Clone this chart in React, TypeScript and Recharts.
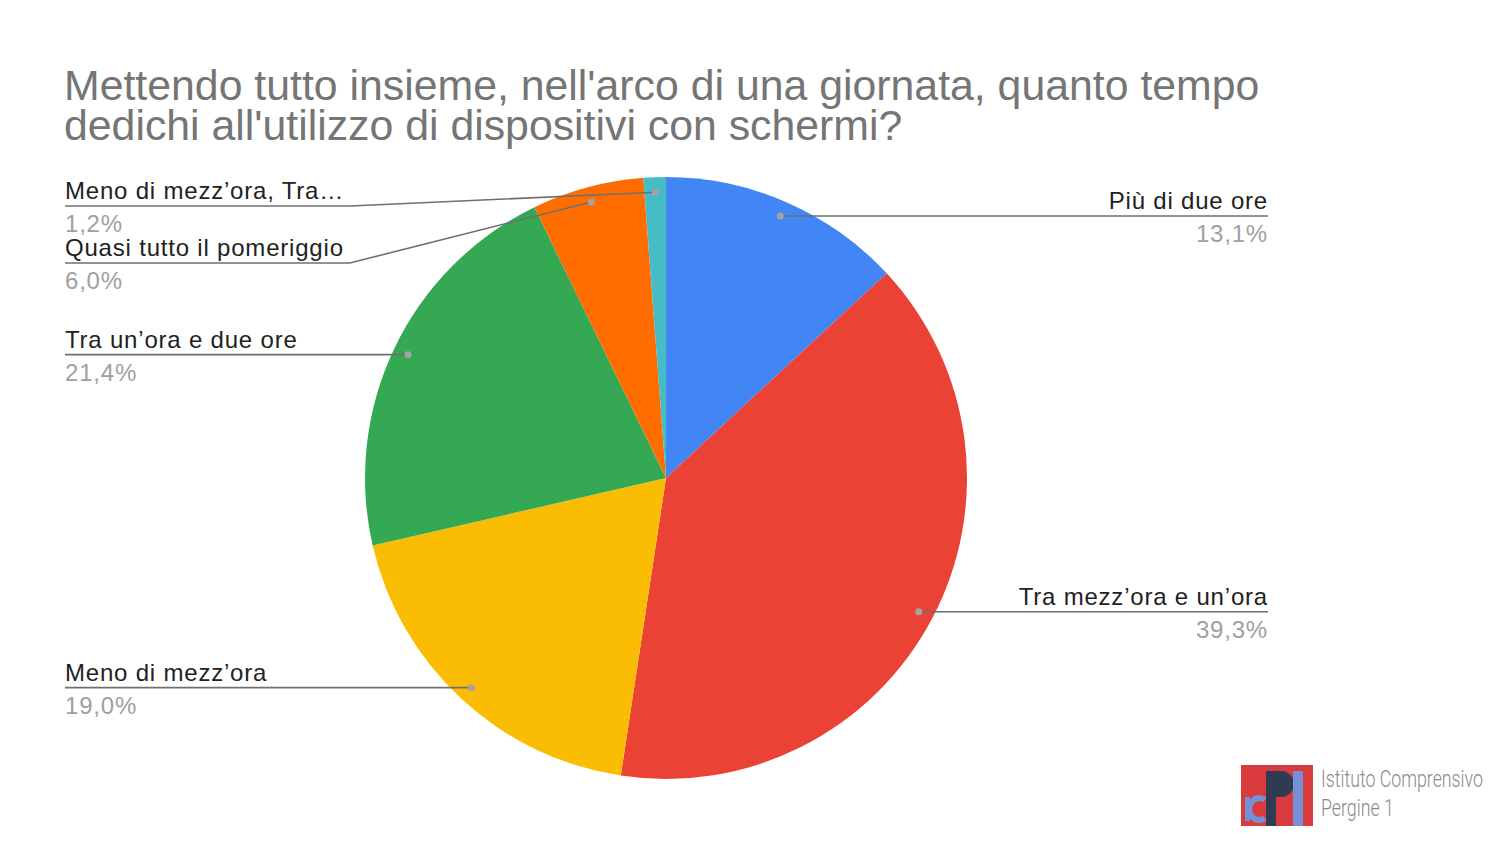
import React from "react";
import { PieChart, Pie, Cell } from "recharts";

const categories = [
  "Più di due ore",
  "Tra mezz’ora e un’ora",
  "Meno di mezz’ora",
  "Tra un’ora e due ore",
  "Quasi tutto il pomeriggio",
  "Meno di mezz’ora, Tra…",
];
const shares = [13.1, 39.3, 19.0, 21.4, 6.0, 1.2];
const colors = ["#4285f4", "#ea4335", "#fbbc04", "#34a853", "#ff6d01", "#46bdc6"];

const data = categories.map((name, i) => ({ name, value: shares[i] }));

const FONT = '"Liberation Sans", Arial, Helvetica, sans-serif';
const RAD = Math.PI / 180;
const LABEL_SIZE = 24;
const LABEL_SPACING = 0.8;
const LEFT_X = 65;
const RIGHT_X = 1268;
const TOP_Y = 206;
const GAP = 57;

let ctx: CanvasRenderingContext2D | null = null;
function textWidth(s: string) {
  if (!ctx) ctx = document.createElement("canvas").getContext("2d");
  if (!ctx) return s.length * 12.5;
  ctx.font = `${LABEL_SIZE}px ${FONT}`;
  return ctx.measureText(s).width + s.length * LABEL_SPACING;
}

// same angles recharts uses: start at 90deg, go clockwise
function midAngles() {
  const total = shares.reduce((a, b) => a + b, 0);
  let acc = 0;
  return shares.map((v) => {
    const a = 90 - ((acc + v / 2) / total) * 360;
    acc += v;
    return a;
  });
}

function layoutLabels(cx: number, cy: number, r: number) {
  const anchors = midAngles().map((a) => ({
    x: cx + Math.cos(a * RAD) * r * 0.95,
    y: cy - Math.sin(a * RAD) * r * 0.95,
    right: Math.cos(a * RAD) >= 0,
  }));
  const ys = anchors.map((p) => p.y);
  [true, false].forEach((side) => {
    const idx = anchors
      .map((_, i) => i)
      .filter((i) => anchors[i].right === side)
      .sort((a, b) => anchors[a].y - anchors[b].y);
    let prev = -Infinity;
    idx.forEach((i) => {
      const y = Math.max(anchors[i].y, TOP_Y, prev + GAP);
      ys[i] = y;
      prev = y;
    });
  });
  return anchors.map((p, i) => ({ ...p, ly: ys[i] }));
}

const renderLabel = (props: any) => {
  const { cx, cy, outerRadius, index } = props;
  const p = layoutLabels(cx, cy, outerRadius)[index];
  const name = categories[index];
  const pct = shares[index].toFixed(1).replace(".", ",") + "%";
  const x0 = p.right ? RIGHT_X : LEFT_X;
  const w = textWidth(name);
  const bend = p.right ? RIGHT_X - w - 6 : LEFT_X + w + 6;
  const points =
    Math.abs(p.ly - p.y) < 1
      ? `${x0},${p.ly} ${p.x},${p.ly}`
      : `${x0},${p.ly} ${bend},${p.ly} ${p.x},${p.y}`;
  const anchor = p.right ? "end" : "start";
  return (
    <g key={`lbl-${index}`}>
      <polyline points={points} fill="none" stroke="#6f6f6f" strokeWidth={1.6} />
      <circle cx={p.x} cy={p.y} r={3.5} fill="#a3a3a3" />
      <text
        x={x0}
        y={p.ly - 7}
        textAnchor={anchor}
        fontFamily={FONT}
        fontSize={LABEL_SIZE}
        letterSpacing={LABEL_SPACING}
        fill="#222"
      >
        {name}
      </text>
      <text
        x={x0}
        y={p.ly + 26}
        textAnchor={anchor}
        fontFamily={FONT}
        fontSize={LABEL_SIZE}
        letterSpacing={LABEL_SPACING}
        fill="#a0a0a0"
      >
        {pct}
      </text>
    </g>
  );
};

function Logo() {
  return (
    <div style={{ position: "absolute", left: 1241, top: 764, width: 255, height: 64 }}>
      <svg width={72} height={64} style={{ position: "absolute", left: 0, top: 0 }}>
        <rect x={0} y={1} width={72} height={61} fill="#d93b3d" />
        <rect x={4} y={33} width={5} height={24} fill="#7390d8" />
        <path d="M24 36 A10 11 0 1 0 24 54" fill="none" stroke="#7390d8" strokeWidth={6} />
        <path d="M25 7 H40 A12 12 0 0 1 40 33 H35 V62 H25 Z" fill="#2e3b52" />
        <rect x={52} y={7} width={10} height={55} fill="#7390d8" />
      </svg>
      <div
        style={{
          position: "absolute",
          left: 80,
          top: 1,
          fontFamily: "Roboto, sans-serif",
          fontWeight: 300,
          fontSize: 24,
          lineHeight: "29px",
          color: "#8a8a8a",
          whiteSpace: "nowrap",
          transform: "scaleX(0.74)",
          transformOrigin: "0 0",
        }}
      >
        Istituto Comprensivo
        <br />
        Pergine 1
      </div>
    </div>
  );
}

export default function App() {
  return (
    <div
      style={{
        position: "absolute",
        left: 0,
        top: 0,
        width: 1500,
        height: 844,
        background: "#fff",
        overflow: "hidden",
      }}
    >
      <div
        style={{
          position: "absolute",
          left: 64,
          top: 65,
          fontFamily: FONT,
          fontSize: 42.8,
          lineHeight: "40px",
          color: "#757575",
          whiteSpace: "nowrap",
        }}
      >
        Mettendo tutto insieme, nell'arco di una giornata, quanto tempo
        <br />
        dedichi all'utilizzo di dispositivi con schermi?
      </div>
      <PieChart
        width={1500}
        height={844}
        margin={{ top: 0, right: 0, bottom: 0, left: 0 }}
        style={{ position: "absolute", left: 0, top: 0 }}
      >
        <Pie
          data={data}
          dataKey="value"
          nameKey="name"
          cx={666}
          cy={478}
          outerRadius={301}
          startAngle={90}
          endAngle={-270}
          stroke="none"
          label={renderLabel}
          labelLine={false}
          isAnimationActive={false}
        >
          {data.map((_, i) => (
            <Cell key={i} fill={colors[i]} />
          ))}
        </Pie>
      </PieChart>
      <Logo />
    </div>
  );
}
